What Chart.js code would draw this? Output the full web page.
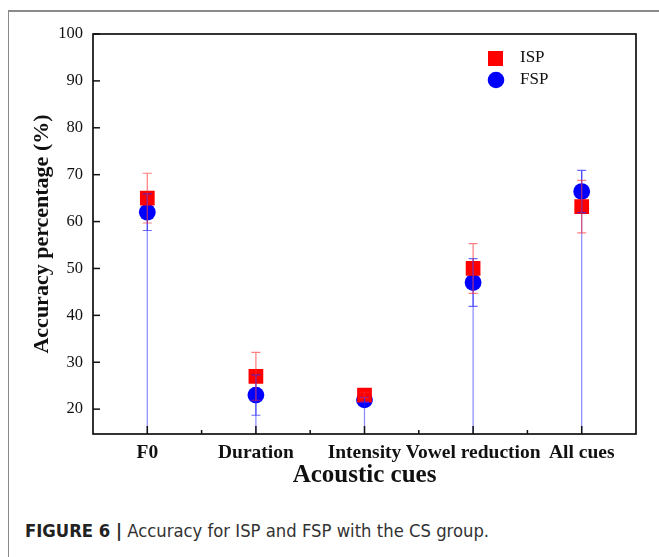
<!DOCTYPE html>
<html>
<head>
<meta charset="utf-8">
<script src="https://cdn.jsdelivr.net/npm/chart.js@4/dist/chart.umd.min.js"></script>
<style>
  html, body { margin: 0; padding: 0; background: #fff; }
  body { width: 659px; height: 557px; position: relative; overflow: hidden; }
  #frame { position: absolute; left: 8px; top: 10px; width: 660px; height: 560px;
    border-left: 1.5px solid #8a8a8a; border-top: 2px solid #8a8a8a; }
  #wrap { position: absolute; left: 0; top: 0; width: 659px; height: 500px; }
  #caption { position: absolute; left: 25px; top: 520px; font-family: "Liberation Sans Narrow", "DejaVu Sans Condensed", sans-serif;
    font-size: 18.3px; color: #333; white-space: nowrap; }
  #caption b { color: #222; }
</style>
</head>
<body>
<div id="frame"></div>
<div id="wrap"><canvas id="myChart" width="659" height="500"></canvas></div>
<div id="caption"><b>FIGURE 6 |</b> Accuracy for ISP and FSP with the CS group.</div>
<script>
  const cues = ['F0', 'Duration', 'Intensity', 'Vowel reduction', 'All cues'];
  const ispMean = [65, 27, 23, 50, 63.2];
  const ispErr = [5.3, 5.1, 0.6, 5.3, 5.6];
  const fspMean = [62, 23, 22, 47, 66.4];
  const fspErr = [3.9, 4.3, 0.5, 5.1, 4.5];
  const yTicks = [20, 30, 40, 50, 60, 70, 80, 90, 100];

  const serif = '"Liberation Serif", "Times New Roman", serif';

  // error bars, drop lines, inward ticks, plot frame, legend
  const extras = {
    id: 'extras',
    afterDatasetsDraw(chart) {
      const ctx = chart.ctx;
      const x = chart.scales.x;
      const y = chart.scales.y;
      const area = chart.chartArea;
      ctx.save();

      // FSP drop lines (top of error bar to the axis)
      ctx.strokeStyle = 'rgba(40, 40, 255, 0.55)';
      ctx.lineWidth = 1.2;
      fspMean.forEach((v, i) => {
        const px = x.getPixelForValue(i);
        ctx.beginPath();
        ctx.moveTo(px, y.getPixelForValue(v + fspErr[i]));
        ctx.lineTo(px, area.bottom);
        ctx.stroke();
      });

      function errBars(mean, err, color) {
        ctx.strokeStyle = color;
        ctx.lineWidth = 1.2;
        mean.forEach((v, i) => {
          const px = x.getPixelForValue(i);
          const hi = y.getPixelForValue(v + err[i]);
          const lo = y.getPixelForValue(v - err[i]);
          ctx.beginPath();
          ctx.moveTo(px, hi); ctx.lineTo(px, lo);
          ctx.moveTo(px - 4.5, hi); ctx.lineTo(px + 4.5, hi);
          ctx.moveTo(px - 4.5, lo); ctx.lineTo(px + 4.5, lo);
          ctx.stroke();
        });
      }
      errBars(fspMean, fspErr, 'rgba(40, 40, 255, 0.7)');
      errBars(ispMean, ispErr, 'rgba(255, 40, 40, 0.6)');

      // frame
      ctx.strokeStyle = '#000';
      ctx.lineWidth = 1.6;
      ctx.strokeRect(area.left, area.top, area.right - area.left, area.bottom - area.top);

      // y ticks pointing in
      ctx.lineWidth = 1.5;
      ctx.strokeStyle = '#111';
      yTicks.forEach(t => {
        const py = y.getPixelForValue(t);
        ctx.beginPath();
        ctx.moveTo(area.left, py); ctx.lineTo(area.left + 7, py);
        ctx.stroke();
      });
      // x ticks: major at categories, minor between
      cues.forEach((c, i) => {
        const px = x.getPixelForValue(i);
        ctx.beginPath();
        ctx.moveTo(px, area.bottom); ctx.lineTo(px, area.bottom - 8);
        ctx.stroke();
        if (i > 0) {
          const mx = (px + x.getPixelForValue(i - 1)) / 2;
          ctx.beginPath();
          ctx.moveTo(mx, area.bottom); ctx.lineTo(mx, area.bottom - 4);
          ctx.stroke();
        }
      });

      // legend
      const ds = chart.data.datasets;
      ctx.font = '17px ' + serif;
      ctx.textBaseline = 'middle';
      ctx.fillStyle = '#111';
      ctx.fillText(ds[0].label, 520, 58);
      ctx.fillText(ds[1].label, 520, 80);
      ctx.fillStyle = ds[0].backgroundColor;
      ctx.fillRect(488, 51, 15, 15);
      ctx.fillStyle = ds[1].backgroundColor;
      ctx.beginPath();
      ctx.arc(496, 80, 8.3, 0, Math.PI * 2);
      ctx.fill();

      ctx.restore();
    }
  };

  const ctx = document.getElementById('myChart').getContext('2d');
  new Chart(ctx, {
    type: 'line',
    data: {
      labels: cues,
      datasets: [
        {
          label: 'ISP',
          data: ispMean,
          showLine: false,
          pointStyle: 'rect',
          pointRadius: 10.4,
          pointHoverRadius: 10.4,
          backgroundColor: '#ff0000',
          borderColor: '#ff0000',
          borderWidth: 0
        },
        {
          label: 'FSP',
          data: fspMean,
          showLine: false,
          pointStyle: 'circle',
          pointRadius: 8.4,
          pointHoverRadius: 8.4,
          backgroundColor: '#0000ff',
          borderColor: '#0000ff',
          borderWidth: 0
        }
      ]
    },
    options: {
      responsive: false,
      animation: false,
      layout: { padding: { left: 0, top: 34, right: 23, bottom: 0 } },
      plugins: {
        legend: { display: false },
        tooltip: { enabled: false }
      },
      scales: {
        x: {
          offset: true,
          grid: { display: false, drawTicks: false },
          border: { display: false },
          ticks: { color: '#111', padding: 7, font: { family: serif, size: 19.5, weight: 'bold' }, maxRotation: 0, autoSkip: false },
          title: { display: true, text: 'Acoustic cues', color: '#111', padding: { top: 0, bottom: 9 },
            font: { family: serif, size: 25, weight: 'bold' } },
          afterFit(scale) { scale.height = 66; }
        },
        y: {
          min: 14.7,
          max: 100,
          grid: { display: false, drawTicks: false },
          border: { display: false },
          afterBuildTicks(scale) { scale.ticks = yTicks.map(v => ({ value: v })); },
          ticks: { color: '#111', padding: 10, font: { family: serif, size: 16.5 } },
          title: { display: true, text: 'Accuracy percentage (%)', color: '#111', padding: { top: 29, bottom: 0 },
            font: { family: serif, size: 22, weight: 'bold' } },
          afterFit(scale) { scale.width = 93; }
        }
      }
    },
    plugins: [extras]
  });
</script>
</body>
</html>
